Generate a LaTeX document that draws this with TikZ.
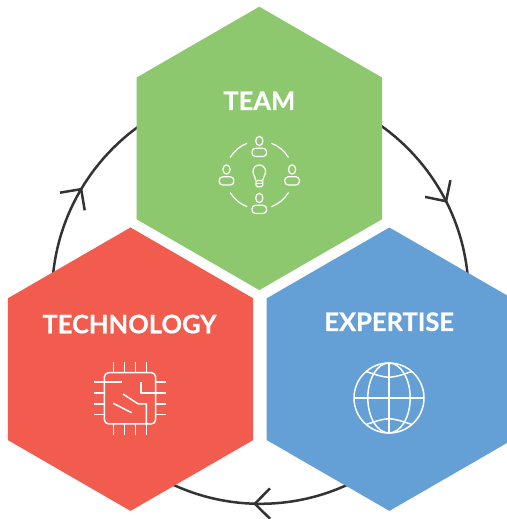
\documentclass[tikz,border=0pt]{standalone}
\usepackage{fontspec}
\setmainfont{Lato}[BoldFeatures={FakeBold=0.6}]
\usetikzlibrary{calc}
\definecolor{teamgreen}{HTML}{8DC86E}
\definecolor{techred}{HTML}{F25C4F}
\definecolor{expblue}{HTML}{64A0D6}
\definecolor{ringgray}{HTML}{333333}
\begin{document}
\begin{tikzpicture}[x=1pt,y=1pt,
  ring/.style={draw=ringgray, line width=2.5pt},
  chev/.style={draw=ringgray, line width=2.5pt, line join=miter, line cap=butt},
  hexlabel/.style={text=white, font=\fontsize{25.5}{30}\selectfont\bfseries, inner sep=0pt, anchor=base},
  icon/.style={draw=white, line width=1.5pt, line cap=butt, line join=round},
  thinicon/.style={draw=white, line width=1.25pt, line cap=butt}]
\useasboundingbox (0,0) rectangle (506,519);
\fill[white] (0,0) rectangle (506,519);

% cycle ring
\coordinate (C) at (260.3,223.5);
\draw[ring] (C) circle[radius=208.3];
\coordinate (tipL) at ($(C)+(149.3:208.3)$);
\coordinate (tipR) at ($(C)+(26.9:208.3)$);
\coordinate (tipB) at ($(C)+(268.5:208.3)$);
\draw[chev] ($(tipL)+(189.4:21.5)$) -- (tipL) -- ($(tipL)+(279.4:21.5)$);
\draw[chev] ($(tipR)+(78.25:21.5)$) -- (tipR) -- ($(tipR)+(168.25:21.5)$);
\draw[chev] ($(tipB)+(-44.7:21.5)$) -- (tipB) -- ($(tipB)+(45.3:21.5)$);

% hexagons
\foreach \n/\x/\y/\c in {team/259.3/370.6/teamgreen, tech/130.5/149.8/techred, expert/389.4/149.8/expblue}{
  \coordinate (\n) at (\x,\y);
  \fill[\c] (\n) ++(90:141.7) -- ++(210:141.7) -- ++(270:141.7) -- ++(330:141.7) -- ++(30:141.7) -- ++(90:141.7) -- cycle;
}

% labels
\node[hexlabel] (teamlabel) at (259.3,409) {TEAM};
\node[hexlabel] (techlabel) at (129.5,185.7) {TECHNOLOGY};
\node[hexlabel] (explabel) at (389.2,188) {EXPERTISE};

% team icon
\coordinate (ti) at (259.3,344);
\foreach \a in {31,111,211,291}
  \draw[thinicon] ($(ti)+(\a:34)$) arc[start angle=\a, delta angle=38, radius=34];
\foreach \dx/\dy in {0/28.5, 0/-28.5, -32.8/0, 32.8/0}{
  \draw[thinicon] ($(ti)+(\dx,\dy+5.5)$) ellipse[x radius=3.6, y radius=4.6];
  \draw[thinicon, rounded corners=3.5] ($(ti)+(\dx-7.3,\dy-10)$) rectangle ($(ti)+(\dx+7.3,\dy-1.8)$);
}
\draw[thinicon] (255.9,338.5) .. controls (255.9,341.5) and (253,343.5) .. (253,347.7)
  arc[start angle=180, end angle=0, radius=6.3]
  .. controls (265.6,343.5) and (262.7,341.5) .. (262.7,338.5);
\draw[thinicon, rounded corners=1.5] (255.9,338.5) rectangle (262.7,332.3);
\draw[thinicon] (255.9,335.4) -- (262.7,335.4);

% chip icon
\coordinate (chip) at (130,120.7);
\draw[icon, rounded corners=4.5] ($(chip)+(-25.7,-25.7)$) rectangle ($(chip)+(25.7,25.7)$);
\foreach \o in {-16.3,-5.5,5.5,16.3}{
  \draw[icon] ($(chip)+(\o,25.7)$) -- ++(0,10.7);
  \draw[icon] ($(chip)+(\o,-25.7)$) -- ++(0,-10.7);
  \draw[icon] ($(chip)+(-25.7,\o)$) -- ++(-10.5,0);
  \draw[icon] ($(chip)+(25.7,\o)$) -- ++(10.5,0);
}
\draw[icon] ($(chip)+(-25.7,16.3)$) -- ($(chip)+(-8.3,16.3)$);
\draw[icon] ($(chip)+(25.7,5.5)$) -- ($(chip)+(11,5.5)$) -- ($(chip)+(11,16.6)$);
\draw[icon] ($(chip)+(16.3,-25.7)$) -- ($(chip)+(16.3,-5.5)$) -- ($(chip)+(8,-5.5)$) -- ($(chip)+(-7,4.3)$);
\draw[icon] ($(chip)+(-16.7,-5)$) -- ($(chip)+(1.7,-14.5)$);

% globe icon
\coordinate (globe) at (389,121);
\draw[icon] (globe) circle[radius=35];
\draw[icon] (globe) ellipse[x radius=21.2, y radius=35];
\draw[icon] ($(globe)+(0,35)$) -- ($(globe)+(0,-35)$);
\draw[icon] ($(globe)+(-35,0)$) -- ($(globe)+(35,0)$);
\draw[icon] ($(globe)+(-22.9,26.5)$) .. controls ($(globe)+(0,18.9)$) .. ($(globe)+(22.9,26.5)$);
\draw[icon] ($(globe)+(-22.9,-26.5)$) .. controls ($(globe)+(0,-18.9)$) .. ($(globe)+(22.9,-26.5)$);
\end{tikzpicture}
\end{document}
